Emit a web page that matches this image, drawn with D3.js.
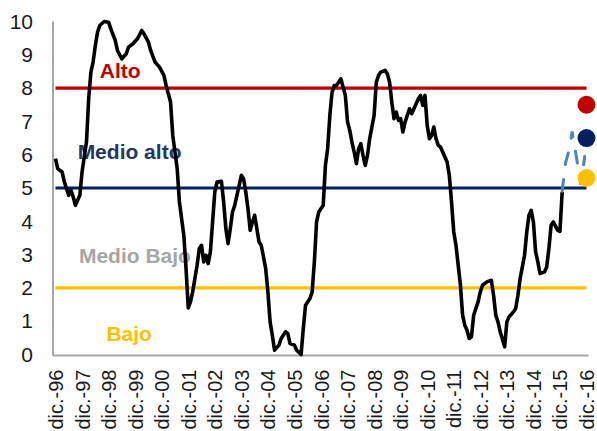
<!DOCTYPE html>
<html>
<head>
<meta charset="utf-8">
<script src="https://cdnjs.cloudflare.com/ajax/libs/d3/7.8.5/d3.min.js"></script>
<style>
  body { margin: 0; background: #fff; }
  text { font-family: "Liberation Sans", Arial, sans-serif; }
</style>
</head>
<body>
<div id="chart"></div>
<script>
var width  = 597;
var height = 431;

// data: [mes desde dic.-96, valor]
var indice = [
  [0,5.88],[1,5.58],[3,5.48],[4,5.18],[6,4.78],[7,4.93],[8,4.73],[9,4.48],[10,4.63],[11,4.78],
  [12,5.48],[14,6.38],[15,7.68],[16,8.48],[17,8.78],[18,9.28],[19,9.68],[20,9.88],[22,10.0],[24,9.98],
  [25,9.78],[27,9.43],[28,9.13],[30,8.88],[32,9.03],[33,9.23],[35,9.33],[37,9.48],[39,9.73],[40,9.63],
  [42,9.38],[43,9.13],[45,8.78],[47,8.63],[49,8.38],[50,8.08],[52,7.58],[53,6.58],[55,5.58],[56,4.58],
  [58,3.58],[59,2.58],[60,1.4],[61,1.58],[62,1.88],[63,2.28],[64,2.68],[65,3.18],[66,3.28],[67,2.78],
  [68,2.98],[69,2.73],[70,3.08],[71,3.98],[72,4.88],[73,5.18],[75,5.2],[76,4.58],[77,3.78],[78,3.33],
  [79,3.78],[80,4.28],[81,4.48],[83,5.08],[84,5.38],[85,5.28],[86,4.88],[87,4.38],[88,3.73],[89,3.98],
  [90,4.18],[91,3.78],[92,3.38],[93,3.28],[95,2.58],[96,1.88],[97,0.98],[98,0.58],[99,0.13],[101,0.28],
  [102,0.48],[104,0.68],[105,0.63],[106,0.33],[108,0.28],[109,0.13],[111,0.0],[112,0.78],[113,1.48],[115,1.68],
  [116,1.88],[117,2.78],[118,3.98],[119,4.28],[121,4.48],[122,5.68],[123,6.18],[124,7.18],[125,7.88],[126,8.08],
  [127,8.08],[129,8.28],[130,8.03],[131,7.78],[132,6.98],[133,6.73],[134,6.38],[135,6.08],[136,5.73],[137,6.18],
  [138,6.33],[139,5.98],[140,5.68],[141,5.98],[142,6.48],[144,7.18],[145,8.18],[146,8.38],[147,8.48],[149,8.53],
  [150,8.43],[151,8.18],[152,7.58],[153,7.08],[154,7.28],[155,7.03],[156,7.08],[157,6.68],[158,6.98],[159,7.18],
  [160,7.38],[161,7.23],[163,7.53],[164,7.68],[165,7.78],[166,7.48],[167,7.78],[168,6.88],[169,6.48],[170,6.58],
  [171,6.83],[172,6.48],[173,6.28],[174,6.23],[175,6.08],[177,5.78],[178,5.38],[179,4.58],[180,3.68],[181,3.28],
  [183,2.1],[184,1.18],[185,0.88],[186,0.73],[187,0.48],[188,0.53],[189,1.18],[191,1.58],[192,1.88],[193,2.08],
  [195,2.18],[197,2.23],[198,1.78],[199,1.18],[200,0.98],[201,0.68],[203,0.23],[204,0.98],[205,1.13],[207,1.28],
  [208,1.38],[209,1.78],[210,2.28],[212,2.98],[213,3.68],[214,4.18],[215,4.33],[216,3.98],[217,3.08],[218,2.78],
  [219,2.43],[221,2.48],[222,2.63],[223,3.18],[224,3.88],[225,3.98],[227,3.73],[228,3.70],[229,4.88]
];

var proyeccion = [[229,4.9],[230.5,5.75],[232.4,6.2],[233.5,6.7],[237.5,5.1],[239.2,5.95]];

var escenarios = [
  {nombre: 'Alto',       valor: 7.5, color: '#C00000'},
  {nombre: 'Medio alto', valor: 6.5, color: '#002060'},
  {nombre: 'Medio bajo', valor: 5.3, color: '#FFC000'}
];

var umbrales = [
  {valor: 8, color: '#C00000'},
  {valor: 5, color: '#002060'},
  {valor: 2, color: '#FFC000'}
];

var zonas = [
  {texto: 'Alto',       valor: 8.3,  mes: 20,   color: '#C00000'},
  {texto: 'Medio alto', valor: 5.88, mes: 10,   color: '#1F3864'},
  {texto: 'Medio Bajo', valor: 2.75, mes: 10.6, color: '#A6A6A6'},
  {texto: 'Bajo',       valor: 0.42, mes: 23,   color: '#FFC000'}
];

var yTicks = [0,1,2,3,4,5,6,7,8,9,10];
var xLabels = ['dic.-96','dic.-97','dic.-98','dic.-99','dic.-00','dic.-01','dic.-02','dic.-03','dic.-04','dic.-05',
               'dic.-06','dic.-07','dic.-08','dic.-09','dic.-10','dic.-11','dic.-12','dic.-13','dic.-14','dic.-15','dic.-16'];

var svg = d3.select("#chart")
    .append("svg")
    .attr("width", width)
    .attr("height", height);

var x = d3.scaleLinear().domain([0, 240]).range([55.5, 586.5]);
var y = d3.scaleLinear().domain([0, 10]).range([354.5, 21.5]);

drawAxes();
drawLines();

function drawAxes(){
  // ejes grises
  svg.append('line')
    .attr('x1', 53).attr('x2', 53)
    .attr('y1', y(10)).attr('y2', y(0) + 1)
    .attr('stroke', '#A6A6A6').attr('stroke-width', 2);
  svg.append('line')
    .attr('x1', 53).attr('x2', x(240) + 2)
    .attr('y1', y(0) + 1).attr('y2', y(0) + 1)
    .attr('stroke', '#A6A6A6').attr('stroke-width', 2);

  var yAxis = svg.append('g')
    .attr('transform', 'translate(53,0)')
    .call(d3.axisLeft(y).tickValues(yTicks).tickSize(0).tickPadding(20));
  yAxis.select('.domain').remove();
  yAxis.selectAll('text')
    .attr('font-size', 21)
    .attr('fill', '#1a1a1a')
    .attr('font-family', '"Liberation Sans", Arial, sans-serif');

  var xAxis = svg.append('g')
    .attr('transform', 'translate(0,' + y(0) + ')')
    .call(d3.axisBottom(x)
      .tickValues(d3.range(0, 241, 12))
      .tickSize(0)
      .tickFormat(function(d, i) { return xLabels[i]; }));
  xAxis.select('.domain').remove();
  xAxis.selectAll('text')
    .attr('transform', 'rotate(-90)')
    .attr('text-anchor', 'end')
    .attr('x', -15)
    .attr('y', 0)
    .attr('dy', '0.35em')
    .attr('font-size', 20)
    .attr('fill', '#1a1a1a')
    .attr('font-family', '"Liberation Sans", Arial, sans-serif');
}

function drawLines(){
  svg.selectAll('.umbral')
    .data(umbrales)
    .enter()
    .append('line')
    .attr('class', 'umbral')
    .attr('x1', x(0)).attr('x2', x(240))
    .attr('y1', function(d) { return y(d.valor); })
    .attr('y2', function(d) { return y(d.valor); })
    .attr('stroke', function(d) { return d.color; })
    .attr('stroke-width', 3.2);

  svg.selectAll('.zona')
    .data(zonas)
    .enter()
    .append('text')
    .attr('class', 'zona')
    .attr('x', function(d) { return x(d.mes); })
    .attr('y', function(d) { return y(d.valor); })
    .attr('font-size', 21)
    .attr('font-weight', 'bold')
    .attr('fill', function(d) { return d.color; })
    .text(function(d) { return d.texto; });

  var line = d3.line()
    .x(function(d) { return x(d[0]); })
    .y(function(d) { return y(d[1]); });

  svg.append('path')
    .datum(indice)
    .attr('d', line)
    .attr('fill', 'none')
    .attr('stroke', '#000')
    .attr('stroke-width', 3.6)
    .attr('stroke-linejoin', 'round');

  svg.append('path')
    .datum(proyeccion)
    .attr('d', line)
    .attr('fill', 'none')
    .attr('stroke', '#4F81BD')
    .attr('stroke-width', 3)
    .attr('stroke-linecap', 'round')
    .attr('stroke-dasharray', '12,15');

  svg.selectAll('.escenario')
    .data(escenarios)
    .enter()
    .append('circle')
    .attr('class', 'escenario')
    .attr('cx', x(240))
    .attr('cy', function(d) { return y(d.valor); })
    .attr('r', 9)
    .style('fill', function(d) { return d.color; });
}
</script>
</body>
</html>
